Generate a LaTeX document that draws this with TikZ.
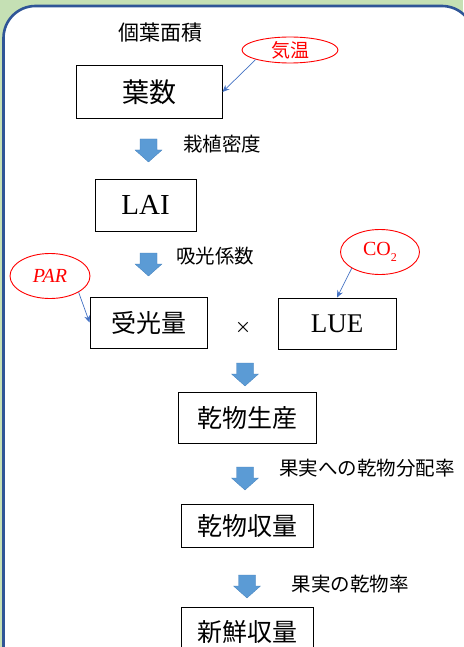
\documentclass[tikz,border=0pt]{standalone}
\usepackage{fontspec}
\setmainfont{Liberation Serif}
\newfontfamily\jp{Noto Sans CJK JP}
\usetikzlibrary{shapes.geometric,arrows.meta}
\definecolor{bgc}{RGB}{197,224,180}
\definecolor{framec}{RGB}{47,85,151}
\definecolor{blockc}{RGB}{91,155,213}
\definecolor{blockd}{RGB}{70,130,190}
\definecolor{linkc}{RGB}{68,114,196}
\tikzset{
  box/.style={draw=black, line width=0.9pt, fill=white, inner sep=0pt},
  oval/.style={ellipse, draw=red, line width=0.9pt, fill=white, inner sep=0pt, text=red},
  link/.style={draw=linkc, line width=0.7pt, -{Stealth[length=7pt,width=6pt]}},
  lbl/.style={inner sep=0pt, font=\jp\fontsize{19.5}{22}\selectfont},
  blockarrow/.pic={\fill[blockc, draw=blockd, line width=0.3pt] (-8.5,0) -- (8.5,0) -- (8.5,11) -- (13.5,11) -- (0,23) -- (-13.5,11) -- (-8.5,11) -- cycle;}
}
\begin{document}
\begin{tikzpicture}[x=1pt,y=-1pt]
\useasboundingbox (0,0) rectangle (463,647);
\fill[bgc] (0,0) rectangle (463,647);
\draw[framec, line width=2.6pt, fill=white, rounded corners=32pt] (3.5,6) rectangle (474,690);

\node[lbl, font=\jp\fontsize{21}{24}\selectfont] (kouyo) at (160,33) {個葉面積};
\node[oval, minimum width=96pt, minimum height=26pt, font=\jp\fontsize{19}{21}\selectfont] (kion) at (290,50) {気温};
\node[box, minimum width=146pt, minimum height=53pt, font=\jp\fontsize{27}{30}\selectfont] (yosu) at (149,92) {葉数};
\draw[link] (kion.south west) -- (yosu.east);

\pic at (148.5,139) {blockarrow};
\node[lbl] (saishoku) at (222,144) {栽植密度};
\node[box, minimum width=101pt, minimum height=52pt, font=\fontsize{29}{32}\selectfont] (lai) at (145.5,205) {LAI};

\pic at (148.5,253) {blockarrow};
\node[lbl] (kyuko) at (215,256) {吸光係数};
\node[oval, minimum width=80pt, minimum height=45pt, font=\itshape\fontsize{20}{22}\selectfont] (par) at (50,276) {PAR};
\node[box, minimum width=117pt, minimum height=51pt, font=\jp\fontsize{25}{28}\selectfont] (juko) at (148.5,322.5) {受光量};
\draw[link] (par.south east) -- (juko.west);
\node[inner sep=0pt, font=\jp\fontsize{16}{18}\selectfont] (times) at (243,328) {×};
\node[box, minimum width=118pt, minimum height=51pt, font=\fontsize{27}{30}\selectfont] (lue) at (337,323.5) {LUE};
\node[oval, minimum width=79pt, minimum height=45pt, font=\fontsize{20}{22}\selectfont] (co2) at (380,252) {CO\raisebox{-0.3em}{\fontsize{12}{12}\selectfont 2}};
\draw[link] (co2.south west) -- (lue.north);

\pic at (245,363) {blockarrow};
\node[box, minimum width=138pt, minimum height=51pt, font=\jp\fontsize{25}{28}\selectfont] (kansei) at (247,417.5) {乾物生産};

\pic at (245,467) {blockarrow};
\node[lbl] (bunpai) at (367,468) {果実への乾物分配率};
\node[box, minimum width=132pt, minimum height=43pt, font=\jp\fontsize{25}{28}\selectfont] (kanshu) at (247,525.5) {乾物収量};

\pic at (247,575) {blockarrow};
\node[lbl] (kanritsu) at (350,584) {果実の乾物率};
\node[box, minimum width=132pt, minimum height=54pt, anchor=north, text depth=0pt, text height=0pt] (shinsen) at (247,607) {};
\node[inner sep=0pt, font=\jp\fontsize{25}{28}\selectfont] (shinsentext) at (247,632) {新鮮収量};
\end{tikzpicture}
\end{document}
